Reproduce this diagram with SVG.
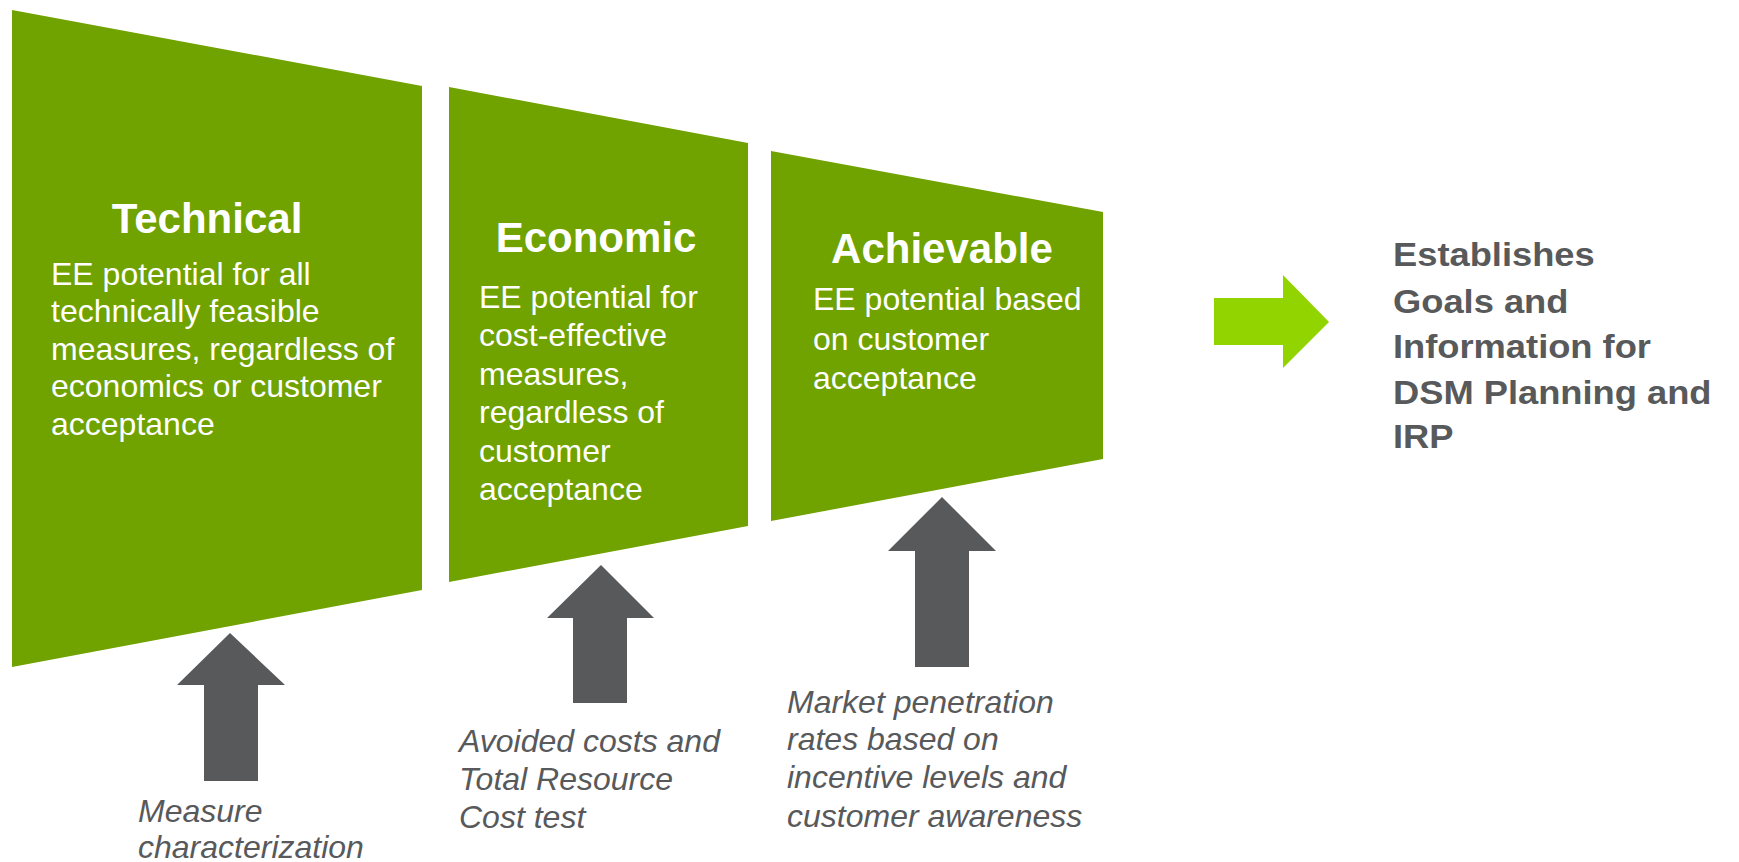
<svg xmlns="http://www.w3.org/2000/svg" width="1739" height="862" viewBox="0 0 1739 862">
<style>
.panel{fill:#70a200}
.up{fill:#58595b}
.title{font-family:"Liberation Sans",Arial,sans-serif;font-weight:bold;font-size:42px;fill:#ffffff;text-anchor:middle}
.body{font-family:"Liberation Sans",Arial,sans-serif;font-size:32px;fill:#ffffff}
.note{font-family:"Liberation Sans",Arial,sans-serif;font-style:italic;font-size:32px;fill:#58595b}
.out{font-family:"Liberation Sans",Arial,sans-serif;font-weight:bold;font-size:33px;fill:#58595b}
</style>
<rect width="1739" height="862" fill="#ffffff"/>
<g id="technical">
<polygon class="panel" points="12,10 422,86 422,590 12,667"/>
<text class="title" x="207" y="233">Technical</text>
<text class="body" x="51" y="285">EE potential for all</text>
<text class="body" x="51" y="322">technically feasible</text>
<text class="body" x="51" y="360">measures, regardless of</text>
<text class="body" x="51" y="397">economics or customer</text>
<text class="body" x="51" y="435">acceptance</text>
</g>
<g id="economic">
<polygon class="panel" points="449,87 748,143 748,526 449,582"/>
<text class="title" x="596" y="252">Economic</text>
<text class="body" x="479" y="308">EE potential for</text>
<text class="body" x="479" y="346">cost-effective</text>
<text class="body" x="479" y="385">measures,</text>
<text class="body" x="479" y="423">regardless of</text>
<text class="body" x="479" y="462">customer</text>
<text class="body" x="479" y="500">acceptance</text>
</g>
<g id="achievable">
<polygon class="panel" points="771,151 1103,212 1103,459 771,521"/>
<text class="title" x="942" y="263">Achievable</text>
<text class="body" x="813" y="310">EE potential based</text>
<text class="body" x="813" y="350">on customer</text>
<text class="body" x="813" y="389">acceptance</text>
</g>
<g id="measure-input">
<text class="note" x="138" y="822">Measure</text>
<text class="note" x="138" y="858">characterization</text>
</g>
<g id="cost-input">
<text class="note" x="459" y="752">Avoided costs and</text>
<text class="note" x="459" y="790">Total Resource</text>
<text class="note" x="459" y="828">Cost test</text>
</g>
<g id="market-input">
<text class="note" x="787" y="713">Market penetration</text>
<text class="note" x="787" y="750">rates based on</text>
<text class="note" x="787" y="788">incentive levels and</text>
<text class="note" x="787" y="827">customer awareness</text>
</g>
<g id="outcome" transform="translate(1393,0) scale(1.1,1)">
<text class="out" x="0" y="266">Establishes</text>
<text class="out" x="0" y="313">Goals and</text>
<text class="out" x="0" y="358">Information for</text>
<text class="out" x="0" y="404">DSM Planning and</text>
<text class="out" x="0" y="448">IRP</text>
</g>
<g id="connectors">
<polygon class="up" points="230,633 285,685 258,685 258,781 204,781 204,685 177,685"/>
<polygon class="up" points="601,565 654,618 627,618 627,703 573,703 573,618 547,618"/>
<polygon class="up" points="942,497 996,551 969,551 969,667 915,667 915,551 888,551"/>
<polygon fill="#92d400" points="1214,298 1283,298 1283,275 1329,322 1283,368 1283,345 1214,345"/>
</g>
</svg>
